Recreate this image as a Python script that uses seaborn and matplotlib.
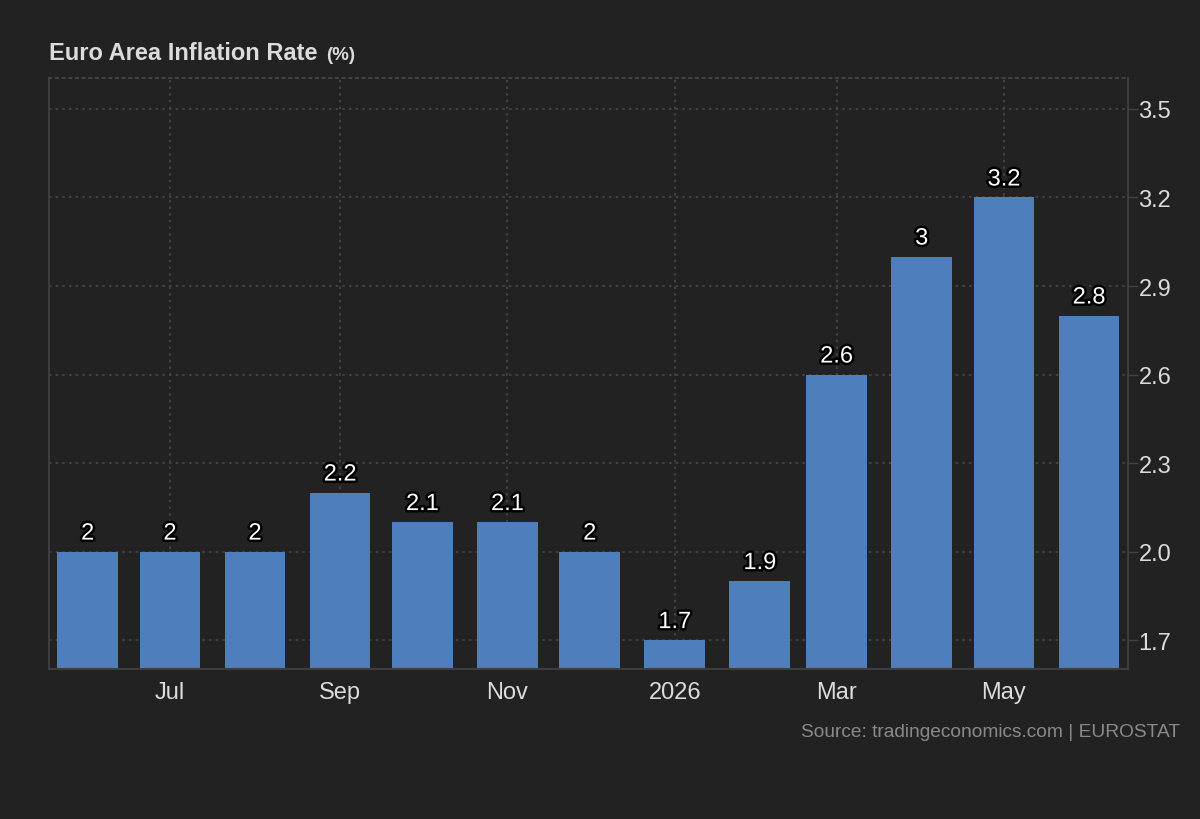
import matplotlib
matplotlib.use("Agg")
import matplotlib.pyplot as plt
import matplotlib.dates as mdates
import matplotlib.patheffects as pe
import seaborn as sns
import pandas as pd
import numpy as np
from datetime import datetime, timedelta

# Data
months = ["2025-06", "2025-07", "2025-08", "2025-09", "2025-10", "2025-11", "2025-12",
          "2026-01", "2026-02", "2026-03", "2026-04", "2026-05", "2026-06"]
values = [2.0, 2.0, 2.0, 2.2, 2.1, 2.1, 2.0, 1.7, 1.9, 2.6, 3.0, 3.2, 2.8]
value_labels = ["2", "2", "2", "2.2", "2.1", "2.1", "2", "1.7", "1.9", "2.6", "3", "3.2", "2.8"]
xtick_dates = ["2025-07", "2025-09", "2025-11", "2026-01", "2026-03", "2026-05"]
xtick_labels = ["Jul", "Sep", "Nov", "2026", "Mar", "May"]
yticks = [1.7, 2.0, 2.3, 2.6, 2.9, 3.2, 3.5]

BG = "#222222"
BAR = "#4e7fbc"
TXT = "#dcdcdc"
GRID = "#484848"

sns.set_theme(style="dark")
plt.rcParams["font.family"] = ["Liberation Sans", "DejaVu Sans"]

dates = [datetime.strptime(m, "%Y-%m") for m in months]
xnum = mdates.date2num(dates)
df = pd.DataFrame({"x": xnum, "value": values})

fig = plt.figure(figsize=(12, 8.2), dpi=100, facecolor=BG)
ax = fig.add_axes([49 / 1200, 1 - 670 / 820, (1128 - 49) / 1200, (670 - 79) / 820])
ax.set_facecolor(BG)

sns.barplot(data=df, x="x", y="value", native_scale=True, color=BAR,
            saturation=1, width=0.79, ax=ax, edgecolor="none", linewidth=0)

x0 = mdates.date2num(datetime(2025, 7, 1)) - 44.1
x1 = mdates.date2num(datetime(2026, 5, 1)) + 45.2
ax.set_xlim(x0, x1)
ax.set_ylim(1.602, 3.605)

# value labels
for xv, v, lab in zip(xnum, values, value_labels):
    ax.annotate(lab, (xv, v), xytext=(0, 18), textcoords="offset pixels",
                ha="center", va="center", fontsize=17, color="white",
                path_effects=[pe.withStroke(linewidth=3.5, foreground="black")])

# x ticks
xt = [mdates.date2num(datetime.strptime(d, "%Y-%m")) for d in xtick_dates]
ax.set_xticks(xt)
ax.set_xticklabels(xtick_labels, color=TXT, fontsize=17)
ax.tick_params(axis="x", length=0, pad=9)

# y ticks on right
ax.yaxis.tick_right()
ax.set_yticks(yticks)
ax.set_yticklabels([f"{t:.1f}" for t in yticks], color=TXT, fontsize=17)
ax.tick_params(axis="y", length=7, color="#444444", pad=0.5, width=1)
ax.set_xlabel("")
ax.set_ylabel("")

ax.grid(True, axis="both", color=GRID, linestyle=(0, (1.5, 2.5)), linewidth=1.2)
ax.set_axisbelow(True)

for side in ["left", "right", "bottom"]:
    ax.spines[side].set_visible(True)
    ax.spines[side].set_color("#3d3d3d")
    ax.spines[side].set_linewidth(1.5)
ax.spines["top"].set_visible(True)
ax.spines["top"].set_color(GRID)
ax.spines["top"].set_linestyle((0, (1.5, 2.5)))
ax.spines["top"].set_linewidth(1.2)

# title
fig.text(49 / 1200, 1 - 54 / 820, "Euro Area Inflation Rate", color=TXT,
         fontsize=17, fontweight="bold", ha="left", va="center")
fig.text(326 / 1200, 1 - 55 / 820, "(%)", color=TXT,
         fontsize=13.5, fontweight="bold", ha="left", va="center")

# source
fig.text(1180 / 1200, 1 - 733 / 820, "Source: tradingeconomics.com | EUROSTAT",
         color="#8a8a8a", fontsize=13.8, ha="right", va="center")

fig.savefig("out.png", dpi=100, facecolor=BG)
